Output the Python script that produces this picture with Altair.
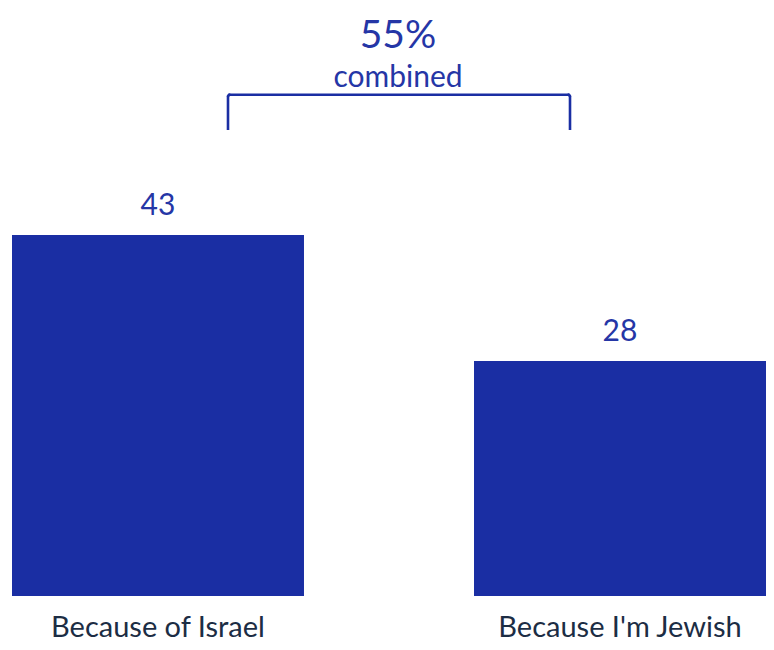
import altair as alt
import pandas as pd

categories = ["Because of Israel", "Because I'm Jewish"]
values = [43, 28]
combined_value = 55
combined_word = "combined"

BAR = "#1A2EA3"
TXT = "#2536A6"
LAB = "#1C2D44"
FONT = "Lato"

df = pd.DataFrame({"cat": categories, "val": values, "lab": [str(v) for v in values]})

x = alt.X("cat:N", sort=categories,
          scale=alt.Scale(range=[4, 758], paddingInner=0.368, paddingOuter=0),
          axis=None)
y = alt.Y("val:Q", scale=alt.Scale(domain=[0, 70], range=[588, 0.35]), axis=None)

base = alt.Chart(df)
bars = base.mark_bar(color=BAR).encode(x=x, y=y)
labels = base.mark_text(font=FONT, fontSize=30, color=TXT, baseline="alphabetic", dy=-20).encode(
    x=alt.X("cat:N", sort=categories), y=y, text="lab:N")
catlabels = base.mark_text(font=FONT, fontSize=29, color=LAB, baseline="alphabetic").encode(
    x=alt.X("cat:N", sort=categories), y=alt.value(629), text="cat:N")

ann = pd.DataFrame({"big": [f"{combined_value}%"], "small": [combined_word]})
big = alt.Chart(ann).mark_text(font=FONT, fontSize=39, color=TXT, baseline="alphabetic").encode(
    x=alt.value(390), y=alt.value(40), text="big:N")
small = alt.Chart(ann).mark_text(font=FONT, fontSize=30, color=TXT, baseline="alphabetic").encode(
    x=alt.value(390), y=alt.value(78.5), text="small:N")

bw = 2.6
h = alt.Chart(ann).mark_rule(color=BAR, strokeWidth=bw, strokeCap="round").encode(
    x=alt.value(221), x2=alt.value(561), y=alt.value(86.7))
v1 = alt.Chart(ann).mark_rule(color=BAR, strokeWidth=bw).encode(
    x=alt.value(220), y=alt.value(88), y2=alt.value(122))
v2 = alt.Chart(ann).mark_rule(color=BAR, strokeWidth=bw).encode(
    x=alt.value(562), y=alt.value(88), y2=alt.value(122))
c1 = alt.Chart(ann).mark_rule(color=BAR, strokeWidth=bw, strokeCap="round").encode(
    x=alt.value(220), x2=alt.value(221.5), y=alt.value(88), y2=alt.value(86.7))
c2 = alt.Chart(ann).mark_rule(color=BAR, strokeWidth=bw, strokeCap="round").encode(
    x=alt.value(562), x2=alt.value(560.5), y=alt.value(88), y2=alt.value(86.7))

chart = alt.layer(bars, labels, catlabels, big, small, h, v1, v2, c1, c2).properties(
    width=758, height=634, autosize=alt.AutoSizeParams(type="none"), padding=0
).configure_view(stroke=None)

chart.save("out.html", embed_options={"renderer": "svg", "actions": False})
